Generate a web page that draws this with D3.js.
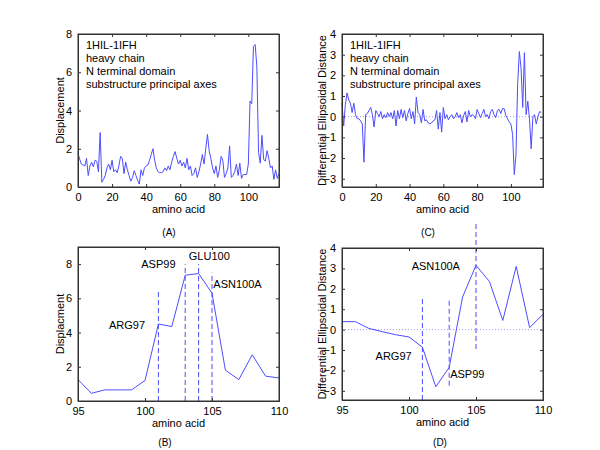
<!DOCTYPE html>
<html><head><meta charset="utf-8">
<script src="https://cdn.jsdelivr.net/npm/d3@7"></script>
<style>body{margin:0;background:#fff}svg{display:block}text{font-family:"Liberation Sans",Arial,sans-serif}</style>
</head><body><svg id="c" width="600" height="450"></svg>
<script>
// Panel A: displacement, residues 0..118
const dispValues = [1.75,1.45,1.2,1.15,1.1,1.5,0.6,1.1,1.3,1.05,1.4,1.35,0.8,2.85,0.25,0.4,0.6,1.0,1.2,0.9,
 1.4,0.8,0.9,0.75,1.1,1.6,1.5,0.7,1.3,0.9,0.6,0.3,0.5,0.85,0.6,0.35,0.15,0.9,0.6,1.0,
 1.1,1.15,1.4,1.7,2.0,1.4,1.0,0.8,0.75,0.75,0.8,1.0,0.85,1.1,0.9,1.3,1.6,1.85,1.5,1.2,
 1.4,1.1,1.3,1.0,1.5,0.9,1.1,0.6,0.7,1.0,0.5,0.8,1.2,1.7,1.2,2.0,2.75,1.9,1.5,1.0,
 0.7,1.1,0.5,0.9,1.6,1.4,0.5,0.7,1.0,2.15,0.5,0.6,0.8,1.2,0.6,1.25,0.45,0.65,0.65,0.65,
 1.2,4.5,4.35,7.35,7.45,6.3,1.8,1.25,2.7,1.45,1.35,1.9,1.5,1.0,1.1,0.4,0.9,0.45,0.7];
// Panel C: differential ellipsoidal distance, residues 0..118
const dedValues = [0.65,-0.45,0.6,1.15,0.8,0.65,0.2,0.65,0.1,-0.1,-0.1,-0.2,-0.35,-2.2,0.1,0.15,0.3,0.45,0.1,-0.5,
 0.3,0.15,0.0,0.25,-0.1,0.1,-0.05,0.2,0.0,0.2,-0.1,0.3,-0.45,0.3,-0.1,0.35,-0.05,0.3,-0.2,0.15,
 0.4,-0.1,0.25,-0.35,0.95,0.2,0.1,-0.3,0.35,-0.2,-0.15,-0.3,-0.35,-0.3,-0.2,-0.15,0.3,-0.6,0.2,-0.75,
 0.45,-0.1,0.1,-0.15,0.0,0.1,-0.1,0.0,0.2,-0.05,0.1,-0.3,0.05,0.25,-0.25,0.3,0.0,0.1,0.05,-0.1,
 0.35,0.15,-0.05,0.15,0.35,0.0,0.1,-0.1,0.25,0.35,0.1,-0.05,0.3,0.35,0.15,0.39,0.39,0.06,-0.1,-0.25,
 -0.36,-0.86,-2.8,-1.85,1.6,3.15,2.36,0.45,3.1,0.1,0.75,-0.1,-1.55,0.0,0.1,-0.35,0.0,0.25,0.2];
const annotLines = ["1HIL-1IFH","heavy chain","N terminal domain","substructure principal axes"];
const ticksAC = [0,20,40,60,80,100];
const ticksBD = [95,100,105,110];
const yTicksAB = [0,2,4,6,8];
const yTicksCD = [-3,-2,-1,0,1,2,3,4];
// Zoomed panels: markers
const markB = [{x:101,y0:0,y1:6.5},{x:103,y0:0,y1:8.0},{x:104,y0:0,y1:8.0},{x:105,y0:0,y1:7.5}];
const labelsB = [{t:"ARG97",x:100,y:4.45,a:"end"},{t:"ASP99",x:101,y:8.0,a:"middle"},{t:"GLU100",x:104.8,y:8.45,a:"middle"},{t:"ASN100A",x:105.1,y:6.85,a:"start"}];
const markD = [{x:101,y0:-3.45,y1:1.55},{x:103,y0:-2.75,y1:1.55},{x:105,y0:-0.95,y1:5.2}];
const labelsD = [{t:"ASN100A",x:102,y:3.13,a:"middle"},{t:"ARG97",x:98.85,y:-1.32,a:"middle"},{t:"ASP99",x:103.07,y:-2.18,a:"start"}];

const svg = d3.select("#c");
const LINE = "#4d4dff";

function panel(o){
  const g = svg.append("g");
  const x = d3.scaleLinear().domain(o.xd).range([o.L,o.R]);
  const y = d3.scaleLinear().domain(o.yd).range([o.B,o.T]);
  if(o.zero){
    g.append("line").attr("x1",o.L).attr("x2",o.R).attr("y1",y(0)).attr("y2",y(0))
     .attr("stroke","#9a9aff").attr("stroke-width",1).attr("stroke-dasharray","1,2");
  }
  const pts = o.data.map((v,i)=>[o.x0+i, v]).filter(p=>p[0]>=o.xd[0]&&p[0]<=o.xd[1]);
  g.append("path").attr("d", d3.line().x(d=>x(d[0])).y(d=>y(d[1]))(pts))
   .attr("fill","none").attr("stroke",LINE).attr("stroke-width",1);
  (o.marks||[]).forEach(m=>{
    g.append("line").attr("x1",x(m.x)).attr("x2",x(m.x)).attr("y1",y(m.y0)).attr("y2",y(m.y1))
     .attr("stroke",LINE).attr("stroke-width",1).attr("stroke-dasharray","5,3");
  });
  (o.labels||[]).forEach(l=>{
    g.append("text").attr("x",x(l.x)).attr("y",y(l.y)).attr("dy","0.35em")
     .attr("text-anchor",l.a).attr("font-size",11).text(l.t);
  });
  g.append("g").attr("transform",`translate(0,${o.B})`).call(d3.axisBottom(x).tickValues(o.xt).tickSize(-3).tickPadding(6));
  g.append("g").attr("transform",`translate(0,${o.T})`).call(d3.axisTop(x).tickValues(o.xt).tickSize(-3).tickFormat(""));
  g.append("g").attr("transform",`translate(${o.L},0)`).call(d3.axisLeft(y).tickValues(o.yt).tickSize(-3).tickPadding(6));
  g.append("g").attr("transform",`translate(${o.R},0)`).call(d3.axisRight(y).tickValues(o.yt).tickSize(-3).tickFormat(""));
  g.selectAll(".domain").attr("stroke","#333");
  g.selectAll(".tick line").attr("stroke","#333");
  g.selectAll(".tick text").attr("font-size",11).attr("fill","#000").attr("font-family","Liberation Sans, Arial, sans-serif");
  g.append("rect").attr("x",o.L).attr("y",o.T).attr("width",o.R-o.L).attr("height",o.B-o.T)
   .attr("fill","none").attr("stroke","#333").attr("stroke-width",1);
  if(o.annot){
    o.annot.forEach((t,i)=>{
      g.append("text").attr("x",o.L+8).attr("y",o.T+11+i*13).attr("dy","0.35em").attr("font-size",11).text(t);
    });
  }
  g.append("text").attr("x",(o.L+o.R)/2).attr("y",o.B+22).attr("dy","0.35em").attr("text-anchor","middle").attr("font-size",11).text("amino acid");
  g.append("text").attr("transform",`translate(${o.ylx},${(o.T+o.B)/2}) rotate(-90)`).attr("dy","0.35em").attr("text-anchor","middle").attr("font-size",11).text(o.ylab);
  g.append("text").attr("x",o.capx).attr("y",o.capy).attr("dy","0.35em").attr("text-anchor","middle").attr("font-size",10).text(o.cap);
}

panel({L:78,R:279,T:34,B:187,xd:[0,118],yd:[0,8],xt:ticksAC,yt:yTicksAB,data:dispValues,x0:0,
  annot:annotLines,ylab:"Displacement",ylx:60,cap:"(A)",capx:169,capy:232});
panel({L:342,R:543,T:34,B:187,xd:[0,119],yd:[-3.4,4],xt:ticksAC,yt:yTicksCD,data:dedValues,x0:0,zero:true,
  annot:annotLines,ylab:"Differential Ellipsoidal Distance",ylx:322,cap:"(C)",capx:428,capy:232});
panel({L:78,R:279,T:247,B:401,xd:[95,110],yd:[0,9],xt:ticksBD,yt:yTicksAB,data:dispValues,x0:0,
  marks:markB,labels:labelsB,ylab:"Displacment",ylx:60,cap:"(B)",capx:165,capy:442});
panel({L:342,R:543,T:248,B:400,xd:[95,110],yd:[-3.45,4],xt:ticksBD,yt:yTicksCD,data:dedValues,x0:0,zero:true,
  marks:markD,labels:labelsD,ylab:"Differential Ellipsoidal Distance",ylx:322,cap:"(D)",capx:440,capy:442});
</script></body></html>
